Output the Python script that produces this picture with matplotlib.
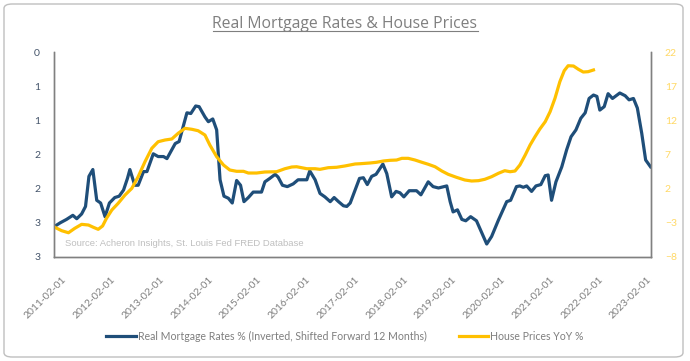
import numpy as np
import matplotlib
matplotlib.use("Agg")
import matplotlib.pyplot as plt
import matplotlib.transforms as mtransforms
from matplotlib.patches import FancyBboxPatch
from matplotlib.lines import Line2D

# Real mortgage rate % (inverted on the left axis), shifted forward 12 months
rate_t = [2011.10, 2011.21, 2011.34, 2011.47, 2011.55, 2011.65, 2011.73, 2011.80, 2011.88, 2011.96,
          2012.04, 2012.13, 2012.22, 2012.33, 2012.42, 2012.51, 2012.59, 2012.64, 2012.74, 2012.81,
          2012.92, 2012.99, 2013.12, 2013.22, 2013.33, 2013.40, 2013.57, 2013.65, 2013.81, 2013.89,
          2013.99, 2014.06, 2014.18, 2014.25, 2014.34, 2014.42, 2014.49, 2014.57, 2014.66, 2014.74,
          2014.83, 2014.91, 2014.98, 2015.07, 2015.17, 2015.34, 2015.41, 2015.51, 2015.62, 2015.68,
          2015.77, 2015.87, 2015.99, 2016.09, 2016.27, 2016.33, 2016.44, 2016.54, 2016.64, 2016.75,
          2016.83, 2016.92, 2017.02, 2017.09, 2017.16, 2017.26, 2017.35, 2017.43, 2017.51, 2017.60,
          2017.69, 2017.83, 2017.91, 2018.01, 2018.10, 2018.18, 2018.26, 2018.37, 2018.52, 2018.61,
          2018.76, 2018.86, 2018.97, 2019.14, 2019.21, 2019.27, 2019.36, 2019.45, 2019.53, 2019.63,
          2019.75, 2019.86, 2019.96, 2020.06, 2020.20, 2020.37, 2020.45, 2020.57, 2020.64, 2020.71,
          2020.78, 2020.88, 2020.97, 2021.07, 2021.16, 2021.22, 2021.29, 2021.38, 2021.50, 2021.60,
          2021.69, 2021.79, 2021.89, 2021.98, 2022.06, 2022.15, 2022.22, 2022.28, 2022.37, 2022.45,
          2022.54, 2022.69, 2022.80, 2022.88, 2022.97, 2023.05, 2023.14, 2023.22, 2023.32]
rate_val = [2.55, 2.50, 2.45, 2.39, 2.44, 2.37, 2.26, 1.82, 1.72, 2.17,
            2.21, 2.41, 2.21, 2.13, 2.11, 2.02, 1.85, 1.72, 1.95, 1.95,
            1.75, 1.75, 1.49, 1.53, 1.53, 1.56, 1.34, 1.31, 0.89, 0.90,
            0.79, 0.80, 0.95, 1.02, 0.98, 1.14, 1.87, 2.11, 2.14, 2.21,
            1.88, 1.95, 2.19, 2.13, 2.05, 2.05, 1.90, 1.85, 1.79, 1.83,
            1.95, 1.97, 1.93, 1.87, 1.87, 1.74, 1.87, 2.07, 2.12, 2.19,
            2.13, 2.19, 2.25, 2.26, 2.21, 2.02, 1.85, 1.84, 1.94, 1.82,
            1.79, 1.64, 1.78, 2.12, 2.04, 2.06, 2.12, 2.03, 2.03, 2.09,
            1.90, 1.97, 1.99, 1.96, 2.19, 2.34, 2.31, 2.45, 2.47, 2.41,
            2.47, 2.65, 2.81, 2.70, 2.46, 2.19, 2.17, 1.97, 1.96, 1.98,
            1.96, 2.04, 1.96, 1.94, 1.81, 1.80, 2.17, 1.90, 1.68, 1.43,
            1.24, 1.14, 0.97, 0.89, 0.68, 0.63, 0.65, 0.85, 0.80, 0.61,
            0.68, 0.60, 0.64, 0.70, 0.68, 0.82, 1.19, 1.58, 1.68]

# House prices YoY % (right axis)
hpi_t = [2011.10, 2011.24, 2011.38, 2011.51, 2011.65, 2011.79, 2011.89, 2011.99, 2012.08, 2012.16,
         2012.27, 2012.40, 2012.54, 2012.68, 2012.81, 2012.95, 2013.09, 2013.22, 2013.36, 2013.50,
         2013.63, 2013.77, 2013.91, 2014.04, 2014.18, 2014.28, 2014.42, 2014.56, 2014.69, 2014.83,
         2014.97, 2015.07, 2015.24, 2015.41, 2015.65, 2015.82, 2015.96, 2016.06, 2016.27, 2016.44,
         2016.54, 2016.71, 2016.88, 2017.05, 2017.26, 2017.36, 2017.57, 2017.70, 2017.84, 2017.98,
         2018.11, 2018.22, 2018.35, 2018.49, 2018.63, 2018.76, 2018.90, 2019.04, 2019.17, 2019.34,
         2019.51, 2019.65, 2019.79, 2019.92, 2020.06, 2020.20, 2020.33, 2020.44, 2020.54, 2020.64,
         2020.75, 2020.85, 2020.95, 2021.05, 2021.16, 2021.26, 2021.36, 2021.46, 2021.55, 2021.63,
         2021.74, 2021.84, 2021.94, 2022.04, 2022.15]
hpi_val = [-3.65, -4.15, -4.45, -3.80, -3.22, -3.32, -3.65, -3.95, -3.46, -2.34,
           -1.12, -0.14, 1.07, 2.05, 3.75, 5.95, 7.91, 8.87, 9.12, 9.27,
           10.10, 10.83, 10.69, 10.48, 9.85, 8.39, 6.68, 5.46, 4.73, 4.54,
           4.54, 4.29, 4.29, 4.44, 4.48, 4.92, 5.17, 5.21, 4.92, 4.92,
           4.83, 5.07, 5.13, 5.32, 5.61, 5.65, 5.76, 5.86, 6.05, 6.15,
           6.19, 6.44, 6.44, 6.19, 5.86, 5.57, 5.21, 4.58, 4.10, 3.66,
           3.27, 3.12, 3.17, 3.37, 3.75, 4.25, 4.63, 4.48, 4.58, 5.46,
           6.93, 8.39, 9.60, 10.73, 11.80, 13.26, 15.22, 17.65, 19.26, 19.99,
           19.95, 19.47, 19.07, 19.12, 19.37]

x_labels = [f"{y}-02-01" for y in range(2011, 2024)]
x_ticks = [y + 1 / 12 for y in range(2011, 2024)]
left_ticks = [0, 0.5, 1, 1.5, 2, 2.5, 3]
left_labels = ["0", "1", "1", "2", "2", "3", "3"]
right_ticks = [-8, -3, 2, 7, 12, 17, 22]

BLUE = "#1F4E79"
GOLD = "#FFC000"
GRID = "#808080"

plt.rcParams["font.family"] = ["Lato", "DejaVu Sans"]

fig = plt.figure(figsize=(6.9, 3.61), dpi=100)
ax = fig.add_axes([54 / 690, 1 - 257 / 361, 597 / 690, 205 / 361])
ax2 = ax.twinx()

l1, = ax.plot(rate_t, rate_val, color=BLUE, lw=2.3, solid_joinstyle="round",
              label="Real Mortgage Rates % (Inverted, Shifted Forward 12 Months)")
l2, = ax2.plot(hpi_t, hpi_val, color=GOLD, lw=2.3, solid_joinstyle="round",
               label="House Prices YoY %")

ax.set_xlim(2011 + 1 / 12, 2023.33)
ax.set_ylim(3, 0)
ax2.set_ylim(-8, 22)

ax.set_yticks(left_ticks)
ax.set_yticklabels(left_labels)
ax2.set_yticks(right_ticks)
ax.set_xticks(x_ticks)
ax.set_xticklabels(x_labels, rotation=45, ha="right", va="top", rotation_mode="anchor")

ax.tick_params(axis="y", length=0, pad=10, labelsize=7.5, labelcolor="#44546A")
ax2.tick_params(axis="y", length=0, pad=10, labelsize=7.5, labelcolor="#FFD966")
ax.tick_params(axis="x", length=0, pad=13, labelsize=7.5, labelcolor="#7F7F7F")
shift = mtransforms.ScaledTranslation(8 / 100, 0, fig.dpi_scale_trans)
for lab in ax.get_xticklabels():
    lab.set_transform(lab.get_transform() + shift)

for a in (ax, ax2):
    a.spines["top"].set_visible(False)
    for s in ("left", "right", "bottom"):
        a.spines[s].set_color(GRID)
        a.spines[s].set_linewidth(1)

ax.text(0.018, 0.055, "Source: Acheron Insights, St. Louis Fed FRED Database",
        transform=ax.transAxes, fontsize=6.8, color="#BFBFBF", family="Liberation Sans")

fig.legend([l1, l2], [l1.get_label(), l2.get_label()], loc="center",
           bbox_to_anchor=(0.5, 1 - 336 / 361), ncol=2, frameon=False,
           fontsize=7.6, labelcolor="#7F7F7F", handlelength=2.8, handletextpad=0.2,
           columnspacing=3.0)

title = fig.text(0.5, 1 - 24 / 361, "Real Mortgage Rates & House Prices", ha="center", va="center",
                 fontsize=11.3, color="#7F7F7F", family="Open Sans")

# rounded border around the chart
fig.patches.append(FancyBboxPatch((4 / 690, 4 / 361), 679 / 690, 353 / 361,
                                  boxstyle="round,pad=0,rounding_size=0.012",
                                  transform=fig.transFigure, fill=False,
                                  edgecolor="#BFBFBF", lw=1))

# underline the title
fig.canvas.draw()
bb = title.get_window_extent().transformed(fig.transFigure.inverted())
fig.lines.append(Line2D([bb.x0, bb.x1], [bb.y0 + 0.002, bb.y0 + 0.002],
                        transform=fig.transFigure, color="#7F7F7F", lw=0.8))

fig.savefig("out.png", dpi=100)
